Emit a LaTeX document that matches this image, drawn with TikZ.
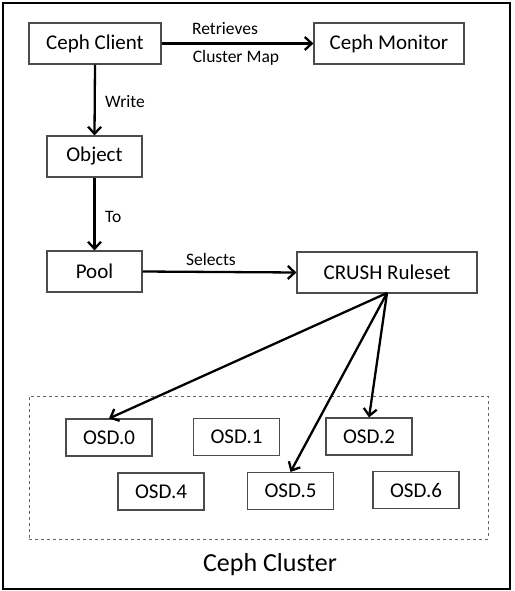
\documentclass[tikz,border=0pt]{standalone}
\usepackage{fontspec}
\setmainfont{Carlito}
\usetikzlibrary{arrows.meta}
\begin{document}
\begin{tikzpicture}[x=1pt,y=-1pt,
  box/.style={draw=black!70,line width=1.1pt,fill=white,inner sep=0pt,font=\fontsize{21}{24}\selectfont},
  osd/.style={draw=black!70,line width=1.1pt,fill=white,inner sep=0pt,minimum width=86pt,minimum height=37pt,font=\fontsize{21}{24}\selectfont},
  lbl/.style={font=\fontsize{17.5}{20}\selectfont,inner sep=0pt},
  arr/.style={line width=2.3pt,-{Straight Barb[length=7pt,width=13pt,line width=2.3pt]}}]
\useasboundingbox (0,0) rectangle (514,591);
\node[draw=black,line width=1.3pt,minimum width=507pt,minimum height=586pt,inner sep=0pt] (frame) at (256.5,296) {};
\node[box,minimum width=132pt,minimum height=41pt] (client) at (95,43.5) {Ceph Client};
\node[box,minimum width=150pt,minimum height=41pt] (monitor) at (389,43.5) {Ceph Monitor};
\node[box,minimum width=95pt,minimum height=41pt] (object) at (94.5,156.5) {Object};
\node[box,minimum width=95pt,minimum height=41pt] (pool) at (94.5,271.5) {Pool};
\node[box,minimum width=180pt,minimum height=41pt] (crush) at (387,272.5) {CRUSH Ruleset};
\node[draw=black!60,dashed,line width=1pt,minimum width=459pt,minimum height=143pt,inner sep=0pt] (cluster) at (258.5,467.5) {};
\node[osd] (o0) at (109,437.5) {OSD.0};
\node[osd] (o1) at (236.5,437) {OSD.1};
\node[osd] (o2) at (369,436.5) {OSD.2};
\node[osd] (o4) at (161,491.5) {OSD.4};
\node[osd] (o5) at (290.5,491) {OSD.5};
\node[osd] (o6) at (416,490) {OSD.6};
\node[font=\fontsize{26}{30}\selectfont,inner sep=0pt] (cl) at (270,565) {Ceph Cluster};
\draw[arr] (client.east) -- (monitor.west);
\node[lbl] (ret) at (225,29) {Retrieves};
\node[lbl] (cmap) at (236,58) {Cluster Map};
\draw[arr] (client.south) -- (object.north);
\node[lbl,anchor=west] (write) at (105,102) {Write};
\draw[arr] (object.south) -- (pool.north);
\node[lbl,anchor=west] (to) at (105,217) {To};
\draw[arr] (pool.east) -- (crush.west);
\node[lbl] (sel) at (211,259) {Selects};
\coordinate (c0) at (387,293);
\draw[arr] (c0) -- (o0.north);
\draw[arr] (c0) -- (o2.north);
\draw[arr] (c0) -- (o5.north);
\end{tikzpicture}
\end{document}
